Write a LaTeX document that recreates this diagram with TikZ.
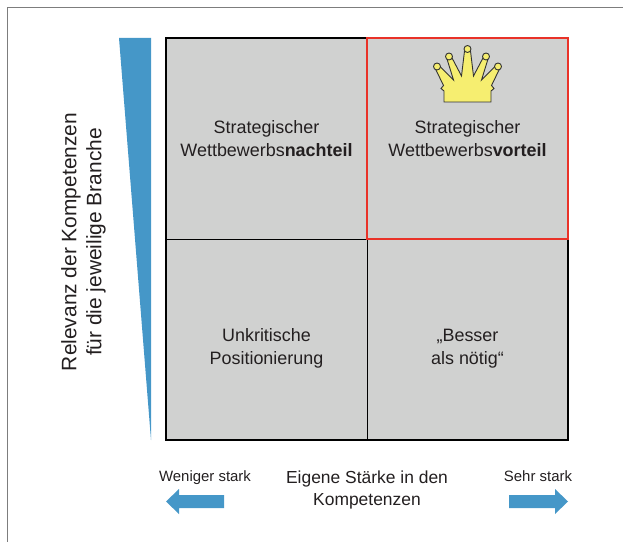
\documentclass[tikz,border=0pt]{standalone}
\usepackage{fontspec}
\setmainfont{Liberation Sans}
\usetikzlibrary{positioning}
\definecolor{feldgrau}{RGB}{208,209,208}
\definecolor{achsblau}{RGB}{69,151,200}
\definecolor{kronengelb}{RGB}{246,238,112}
\definecolor{schrift}{RGB}{35,31,32}
\definecolor{rahmengrau}{RGB}{125,125,125}
\definecolor{vorteilrot}{RGB}{233,50,40}

\begin{document}
\begin{tikzpicture}[x=1bp, y=-1bp,
    feld/.style={fill=feldgrau, draw=black, line width=0.8bp, minimum width=201bp, minimum height=201bp, inner sep=0pt, outer sep=0pt},
    feldtext/.style={text=schrift, align=center, font=\fontsize{18}{23}\selectfont},
    achstext/.style={text=schrift, align=center, font=\fontsize{17.5}{22}\selectfont},
    pfeiltext/.style={text=schrift, font=\fontsize{15}{18}\selectfont},
    pfeil/.style={fill=achsblau}]
    \useasboundingbox (0,0) rectangle (623,542);
    \draw[rahmengrau, line width=1.2bp] (7.5,542) |- (623,7.5);
    \fill[achsblau] (119,38) -- (151,38) -- (151,440) -- cycle;
    \node[feld, anchor=north west] (nw) at (166,38) {};
    \node[feld, right=0pt of nw] (ne) {};
    \node[feld, below=0pt of nw] (sw) {};
    \node[feld, below=0pt of ne] (se) {};
    \draw[line width=2bp] (nw.north west) rectangle (se.south east);
    \draw[vorteilrot, line width=2bp] (ne.north west) rectangle (ne.south east);
    \node[feldtext] (nachteil) at (nw.center) {Strategischer\\Wettbewerbs\textbf{nachteil}};
    \node[feldtext] (vorteil) at (ne.center) {Strategischer\\Wettbewerbs\textbf{vorteil}};
    \node[feldtext] (unkritisch) at ([yshift=-9bp]sw.center) {Unkritische\\Positionierung};
    \node[feldtext] (besser) at ([yshift=-9bp]se.center) {„Besser\\als nötig“};
    \begin{scope}[shift={(ne.north)}, fill=kronengelb, draw=black!80, line width=0.9bp]
        \filldraw (23.5,64) -- (23.5,53) -- (26.5,50.5) -- (24,47.5) -- (32,31) -- (28,28) -- (14,42) -- (20.5,21) -- (16.5,18) -- (6,38) -- (3,13)
            -- (-3,13) -- (-6,38) -- (-16.5,18) -- (-20.5,21) -- (-14,42) -- (-28,28) -- (-32,31) -- (-24,47.5) -- (-26.5,50.5) -- (-23.5,53) -- (-23.5,64) -- cycle;
        \foreach \kx/\ky in {-30.5/28.5, -18.5/18.5, 0/11, 18.5/18.5, 30.5/28.5}
            \filldraw (\kx,\ky) circle[radius=3.5bp];
    \end{scope}
    \node[rotate=90, text=schrift, align=center, font=\fontsize{21}{25}\selectfont] (relevanz) at (83.5,242) {Relevanz der Kompetenzen\\für die jeweilige Branche};
    \node[achstext] (achse) at (367,490) {Eigene Stärke in den\\Kompetenzen};
    \node[pfeiltext] (schwach) at (205,478) {Weniger stark};
    \node[pfeiltext] (stark) at (538,476) {Sehr stark};
    \fill[pfeil] (166,501.5) -- (179,489) -- (179,495) -- (224,495) -- (224,508) -- (179,508) -- (179,514) -- cycle;
    \fill[pfeil] (568,501.5) -- (555,489) -- (555,495) -- (509,495) -- (509,508) -- (555,508) -- (555,514) -- cycle;
\end{tikzpicture}
\end{document}
